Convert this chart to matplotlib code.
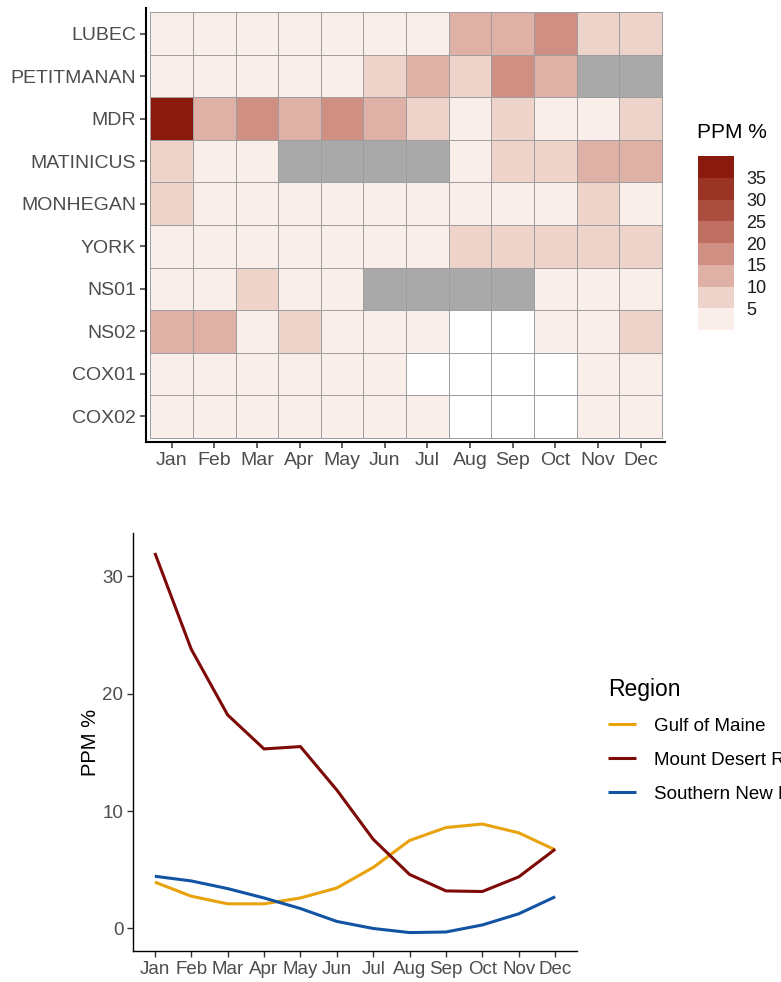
import numpy as np
import matplotlib
matplotlib.use("Agg")
import matplotlib.pyplot as plt
from matplotlib.colors import ListedColormap, BoundaryNorm
import matplotlib.cm as cm

plt.rcParams['font.family'] = ['Liberation Sans', 'DejaVu Sans']

# --- datos ---
months = ["Jan", "Feb", "Mar", "Apr", "May", "Jun",
          "Jul", "Aug", "Sep", "Oct", "Nov", "Dec"]
stations = ["LUBEC", "PETITMANAN", "MDR", "MATINICUS", "MONHEGAN",
            "YORK", "NS01", "NS02", "COX01", "COX02"]

NA = np.nan   # sin dato (gris)
# None = no hay celda (blanco)
lubec      = [2.1, 1.8, 1.5, 1.2, 1.6, 2.4, 3.1, 12.4, 13.1, 17.6, 7.9, 8.3]
petitmanan = [1.9, 1.4, 1.2, 0.9, 1.3, 8.2, 12.8, 8.6, 17.9, 13.5, NA, NA]
mdr        = [37.5, 13.2, 18.4, 12.9, 18.1, 13.6, 8.7, 2.9, 7.4, 3.2, 2.6, 8.1]
matinicus  = [6.8, 2.2, 1.9, NA, NA, NA, NA, 3.1, 7.6, 7.2, 11.4, 11.9]
monhegan   = [7.1, 2.3, 1.7, 1.1, 1.4, 1.8, 2.6, 3.3, 3.6, 2.9, 6.4, 2.8]
york       = [2.4, 2.0, 1.6, 1.3, 1.5, 2.2, 3.4, 6.9, 7.8, 8.4, 7.9, 7.3]
ns01       = [3.2, 2.7, 6.1, 2.4, 1.8, NA, NA, NA, NA, 2.1, 2.6, 3.0]
ns02       = [11.8, 12.3, 2.1, 6.3, 1.4, 0.9, 0.6, None, None, 1.2, 1.9, 5.8]
cox01      = [2.9, 2.5, 1.9, 1.2, 0.8, 0.5, None, None, None, None, 1.4, 2.2]
cox02      = [2.6, 2.2, 1.7, 1.0, 0.7, 0.4, 0.3, None, None, None, 1.1, 1.9]

bin_edges = [0, 5, 10, 15, 20, 25, 30, 35, 40]
bin_ticks = [5, 10, 15, 20, 25, 30, 35]

# promedios por region
gulf_of_maine = [3.95, 2.75, 2.1, 2.1, 2.6, 3.45, 5.2, 7.5, 8.6, 8.9, 8.15, 6.7]
mount_desert = [32.0, 23.8, 18.2, 15.3, 15.5, 11.8, 7.6, 4.6, 3.2, 3.15, 4.4, 6.75]
southern_ne = [4.45, 4.05, 3.4, 2.6, 1.7, 0.6, 0.0, -0.35, -0.3, 0.3, 1.25, 2.7]
regions = ["Gulf of Maine", "Mount Desert Rock", "Southern New England"]
region_colors = ["#E8A20C", "#7E0A07", "#1254A3"]

W, H = 781, 982
fig = plt.figure(figsize=(W / 100, H / 100), dpi=100)

rows = [lubec, petitmanan, mdr, matinicus, monhegan, york, ns01, ns02, cox01, cox02]
grid = np.array([[np.nan if v is None else v for v in r] for r in rows], dtype=float)
absent = np.array([[v is None for v in r] for r in rows])
back = np.ma.masked_where(~np.isnan(grid), np.where(absent, 0.0, 1.0))

bin_colors = ["#FAEEEB", "#EED3CB", "#DFB0A5", "#CF8F82",
              "#BF6F61", "#AC4E3F", "#9A3526", "#8B1A0E"]
bin_cmap = ListedColormap(bin_colors)
norm = BoundaryNorm(bin_edges, bin_cmap.N)

# --- heatmap ---
ax = fig.add_axes([146 / W, 1 - 442 / H, (665 - 146) / W, (442 - 8) / H])
xe = np.arange(13) - 0.5
ye = np.arange(11) - 0.5
ax.pcolormesh(xe, ye, back, cmap=ListedColormap(["white", "#A9A9A9"]),
              vmin=-0.5, vmax=1.5, edgecolors="#9E9E9E", linewidth=0.6)
ax.pcolormesh(xe, ye, np.ma.masked_invalid(grid), cmap=bin_cmap, norm=norm,
              edgecolors="#9E9E9E", linewidth=0.6)
ax.set_xlim(-0.6, 11.57)
ax.set_ylim(9.6, -0.6)
ax.set_xticks(range(12))
ax.set_xticklabels(months)
ax.set_yticks(range(10))
ax.set_yticklabels(stations)
for s in ["top", "right"]:
    ax.spines[s].set_visible(False)
for s in ["left", "bottom"]:
    ax.spines[s].set_linewidth(1.5)
ax.tick_params(length=4, width=1.1, color="#333333", labelcolor="#4D4D4D",
               labelsize=14, pad=3)

cax = fig.add_axes([698 / W, 1 - 330 / H, 36 / W, 174 / H])
sm = cm.ScalarMappable(norm=norm, cmap=bin_cmap)
cb = fig.colorbar(sm, cax=cax, ticks=bin_ticks)
cb.outline.set_visible(False)
cb.ax.minorticks_off()
cb.ax.tick_params(which="both", length=0, labelsize=13, pad=9, labelcolor="#1A1A1A")
fig.text(697 / W, 1 - 133 / H, "PPM %", fontsize=15, va="center", ha="left")

# --- lineas ---
ax2 = fig.add_axes([133 / W, 1 - 951 / H, (577 - 133) / W, (951 - 533) / H])
x = np.arange(12)
for serie, name, col in zip([gulf_of_maine, mount_desert, southern_ne], regions, region_colors):
    ax2.plot(x, serie, color=col, lw=2.2, label=name, solid_capstyle="butt")
ax2.set_xlim(-0.6, 11.6)
ax2.set_ylim(-1.92, 33.7)
ax2.set_xticks(x)
ax2.set_xticklabels(months)
ax2.set_yticks([0, 10, 20, 30])
ax2.set_ylabel("PPM %", fontsize=14.5, labelpad=2)
for s in ["top", "right"]:
    ax2.spines[s].set_visible(False)
for s in ["left", "bottom"]:
    ax2.spines[s].set_linewidth(1.0)
ax2.tick_params(length=4, width=1.0, color="#333333", labelcolor="#4D4D4D",
                labelsize=13.5, pad=3)

leg = ax2.legend(loc="upper left", bbox_to_anchor=(608 / W, 1 - 678 / H),
                 bbox_transform=fig.transFigure, frameon=False, title="Region",
                 title_fontsize=16.5, fontsize=13.5, handlelength=1.5,
                 handletextpad=0.95, labelspacing=0.9, borderpad=0,
                 borderaxespad=0, alignment="left")
leg._legend_box.sep = 12

fig.savefig("out.png", dpi=100)
